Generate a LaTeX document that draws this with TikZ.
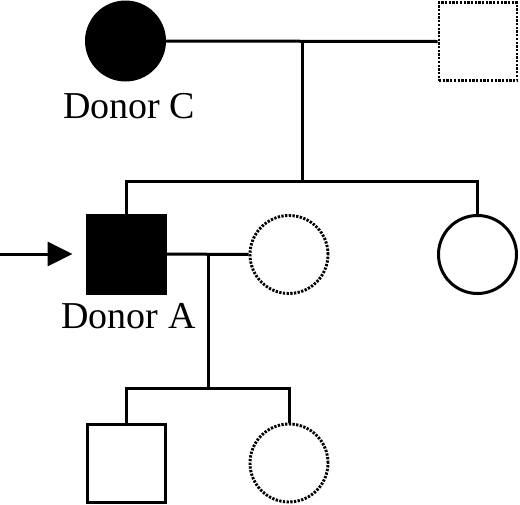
\documentclass[tikz,border=0pt]{standalone}
\usepackage{fontspec}
\setmainfont{Liberation Serif}
\usetikzlibrary{arrows.meta}
\begin{document}
\begin{tikzpicture}[x=1pt,y=-1pt,line width=3pt,
  person/.style={draw,inner sep=0pt,minimum size=78pt},
  female/.style={person,circle},
  male/.style={person,rectangle},
  affected/.style={fill=black},
  unknown/.style={line width=2.9pt,dash pattern=on 2.3pt off 1.4pt},
  lbl/.style={font=\fontsize{38}{40}\selectfont,anchor=base,inner sep=0pt}]
\useasboundingbox (0,0) rectangle (520,504);
% generation I
\node[female,affected] (C) at (125.5,41) {};
\node[male,unknown] (F) at (478,41.5) {};
\node[lbl] (lc) at (129,118) {Donor C};
\coordinate (m1) at (302,41);
\coordinate (t1) at (302,181);
\draw (C.east) -- (F.west);
\draw (m1) -- (t1);
% generation II
\node[male,affected] (A) at (126,254) {};
\node[female,unknown] (W) at (289,254.5) {};
\node[female] (S) at (477.5,254.5) {};
\node[lbl] (la) at (128.5,328) {Donor A};
\draw (A.north) |- (t1) -| (S.north);
\draw (A.east) -- (W.west);
\coordinate (arr) at (0,254);
\draw[-{Triangle[length=25pt,width=24pt]},shorten >=13pt] (arr) -- (A.west);
% generation III
\coordinate (m2) at (208,254);
\coordinate (t2) at (208,388);
\draw (m2) -- (t2);
\node[male] (K1) at (126,463) {};
\node[female,unknown] (K2) at (289,463) {};
\draw (K1.north) |- (t2) -| (K2.north);
\end{tikzpicture}
\end{document}
